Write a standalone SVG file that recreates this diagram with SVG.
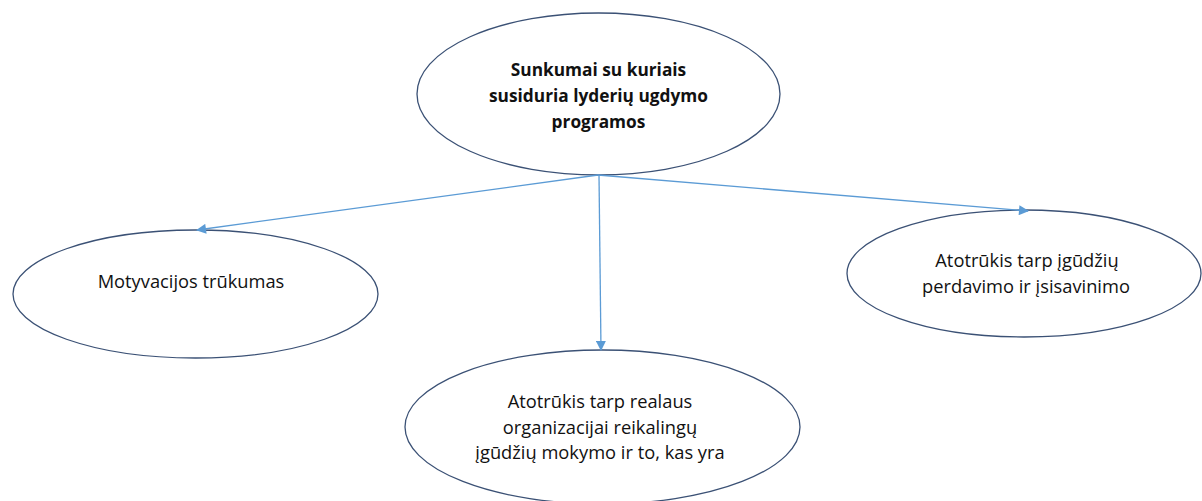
<svg xmlns="http://www.w3.org/2000/svg" width="1202" height="501" viewBox="0 0 1202 501">
  <defs>
    <style>
      .node ellipse { fill: #ffffff; stroke: #3b5175; stroke-width: 1.3; }
      .node text { font-family: "Open Sans", "Liberation Sans", sans-serif; font-size: 18.3px; fill: #111111; text-anchor: middle; }
      .node text.title { font-weight: bold; font-size: 17.3px; }
      .edge { fill: none; stroke: #5b9bd5; stroke-width: 1.3; marker-end: url(#arrow); }
    </style>
    <marker id="arrow" viewBox="0 0 10 10" refX="9" refY="5" markerWidth="11" markerHeight="10" markerUnits="userSpaceOnUse" orient="auto">
      <path d="M0,0 L10,5 L0,10 z" fill="#5b9bd5"/>
    </marker>
  </defs>
  <rect width="1202" height="501" fill="#ffffff"/>

  <g id="node-root" class="node">
    <ellipse cx="598.5" cy="94" rx="181.5" ry="81"/>
    <text class="title" x="598.5" y="76">Sunkumai su kuriais</text>
    <text class="title" x="598.5" y="102">susiduria lyderių ugdymo</text>
    <text class="title" x="598.5" y="128">programos</text>
  </g>

  <g id="node-motivation" class="node">
    <ellipse cx="195.5" cy="294" rx="182.5" ry="64"/>
    <text x="191" y="288">Motyvacijos trūkumas</text>
  </g>

  <g id="node-transfer" class="node">
    <ellipse cx="1024" cy="273.5" rx="177" ry="63.5"/>
    <text x="1027" y="267">Atotrūkis tarp įgūdžių</text>
    <text x="1026" y="293">perdavimo ir įsisavinimo</text>
  </g>

  <g id="node-skills" class="node">
    <ellipse cx="602.5" cy="427" rx="197.5" ry="77"/>
    <text x="600" y="408">Atotrūkis tarp realaus</text>
    <text x="600" y="434">organizacijai reikalingų</text>
    <text x="600" y="459">įgūdžių mokymo ir to, kas yra</text>
  </g>

  <g id="connectors">
    <line class="edge" x1="598" y1="175" x2="197" y2="230"/>
    <line class="edge" x1="599" y1="175" x2="601" y2="350"/>
    <line class="edge" x1="598" y1="175" x2="1028" y2="211"/>
  </g>
</svg>
